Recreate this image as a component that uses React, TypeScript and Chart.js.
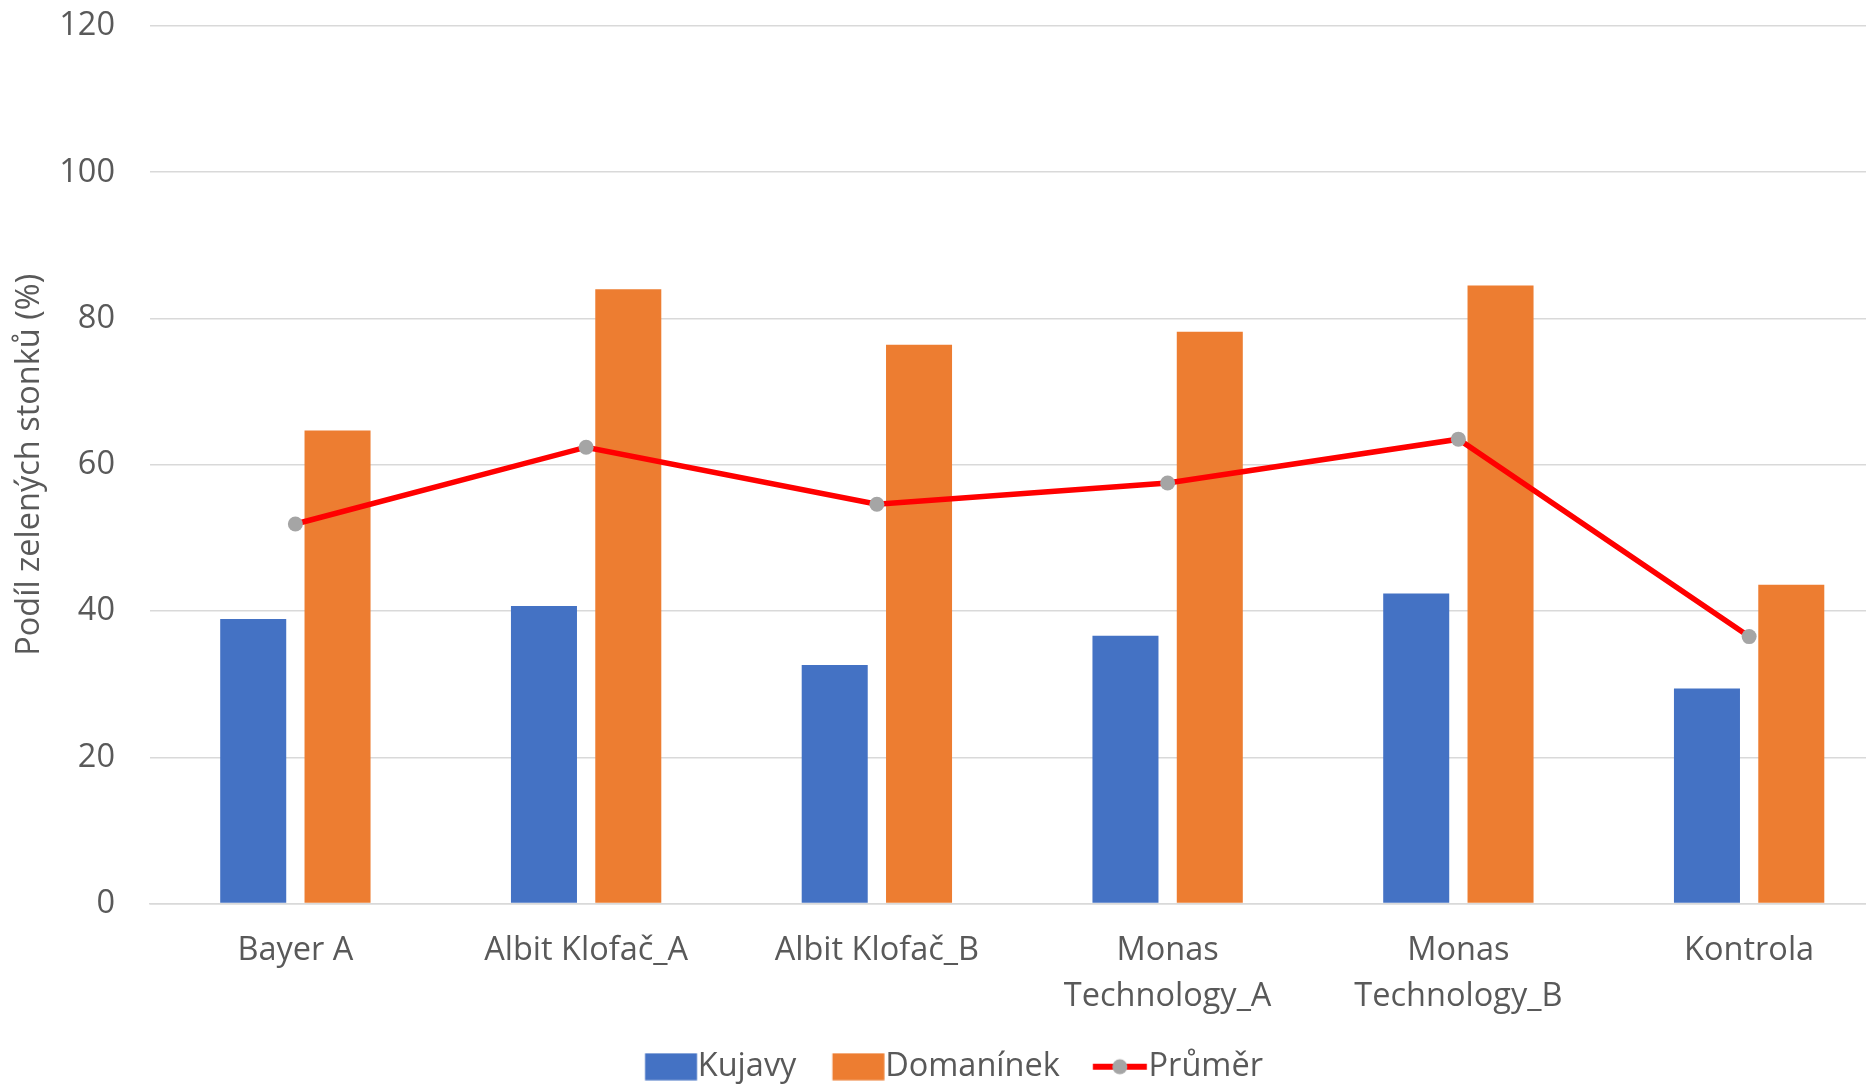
import React, { useEffect, useRef } from "react";
import { Chart, registerables } from "chart.js";

Chart.register(...registerables);

const categories: (string | string[])[] = [
  "Bayer A",
  "Albit Klofač_A",
  "Albit Klofač_B",
  ["Monas", "Technology_A"],
  ["Monas", "Technology_B"],
  "Kontrola",
];
const kujavy = [38.9, 40.7, 32.6, 36.6, 42.4, 29.4];
const domaninek = [64.7, 84.0, 76.4, 78.2, 84.5, 43.6];
const prumer = [51.9, 62.4, 54.6, 57.5, 63.5, 36.5];
const yTicks = [0, 20, 40, 60, 80, 100, 120];

const FONT = "'Open Sans', 'Liberation Sans', sans-serif";
const FS = 32.5;
const TEXT = "#595959";
const GRID = "#D9D9D9";
const BLUE = "#4472C4";
const ORANGE = "#ED7D31";
const RED = "#FF0000";
const GRAY = "#A5A5A5";

const CANVAS_W = 1902;
const LEFT_PAD = 6;
const BOXW = 36.5; // legend pointStyleWidth
const ICON_W = 70;

function makeRectIcon(color: string) {
  const c = document.createElement("canvas");
  c.width = ICON_W;
  c.height = 28;
  const ctx = c.getContext("2d")!;
  ctx.fillStyle = color;
  const x0 = ICON_W / 2 - BOXW / 2;
  ctx.fillRect(x0, 0.5, 52, 27);
  return c;
}
function makeLineIcon() {
  const c = document.createElement("canvas");
  c.width = ICON_W;
  c.height = 28;
  const ctx = c.getContext("2d")!;
  const x0 = ICON_W / 2 - BOXW / 2 - 3;
  ctx.strokeStyle = RED;
  ctx.lineWidth = 6;
  ctx.beginPath();
  ctx.moveTo(x0, 14);
  ctx.lineTo(x0 + 54, 14);
  ctx.stroke();
  ctx.fillStyle = GRAY;
  ctx.beginPath();
  ctx.arc(x0 + 27, 14, 7.5, 0, Math.PI * 2);
  ctx.fill();
  return c;
}

export default function App() {
  const ref = useRef<HTMLCanvasElement>(null);
  useEffect(() => {
    if (!ref.current) return;
    const icons = [makeRectIcon(BLUE), makeRectIcon(ORANGE), makeLineIcon()];
    const chart = new Chart(ref.current, {
      type: "bar",
      data: {
        labels: categories,
        datasets: [
          {
            type: "bar",
            label: "Kujavy",
            data: kujavy,
            backgroundColor: BLUE,
            order: 2,
            categoryPercentage: 0.58,
            barPercentage: 0.783,
          },
          {
            type: "bar",
            label: "Domanínek",
            data: domaninek,
            backgroundColor: ORANGE,
            order: 2,
            categoryPercentage: 0.58,
            barPercentage: 0.783,
          },
          {
            type: "line",
            label: "Průměr",
            data: prumer,
            borderColor: RED,
            borderWidth: 5.5,
            pointRadius: 7.5,
            pointBackgroundColor: GRAY,
            pointBorderColor: GRAY,
            pointBorderWidth: 0,
            order: 1,
          } as any,
        ],
      },
      options: {
        animation: false,
        responsive: false,
        maintainAspectRatio: false,
        layout: { padding: { top: 26, right: 0, left: LEFT_PAD, bottom: -9 } },
        plugins: {
          tooltip: { enabled: false },
          legend: {
            position: "bottom",
            labels: {
              usePointStyle: true,
              pointStyleWidth: BOXW,
              boxHeight: 27,
              padding: 36,
              color: TEXT,
              font: { family: FONT, size: FS },
              generateLabels: (chart: any) =>
                chart.data.datasets.map((ds: any, i: number) => ({
                  text: ds.label,
                  datasetIndex: i,
                  pointStyle: icons[i],
                  fillStyle: "transparent",
                  strokeStyle: "transparent",
                  lineWidth: 0,
                  fontColor: TEXT,
                  hidden: false,
                })),
            },
          },
        },
        scales: {
          x: {
            grid: { display: false, drawTicks: false },
            border: { display: true, color: GRID, width: 1.5 },
            ticks: {
              color: TEXT,
              padding: 24,
              maxRotation: 0,
              autoSkip: false,
              font: { family: FONT, size: FS, lineHeight: 46 / FS },
            },
            afterFit: (scale: any) => {
              scale.height = 111;
              scale.paddingLeft = 0;
              scale.paddingRight = 0;
            },
          },
          y: {
            min: 0,
            max: 120,
            afterBuildTicks: (scale: any) => {
              scale.ticks = yTicks.map((v) => ({ value: v }));
            },
            grid: { color: GRID, lineWidth: 1.5, drawTicks: false },
            border: { display: false },
            ticks: {
              color: TEXT,
              padding: 35,
              font: { family: FONT, size: FS },
            },
            title: {
              display: true,
              text: "Podíl zelených stonků (%)",
              color: TEXT,
              padding: { top: 30 - LEFT_PAD - (FS * 1.2) / 2, bottom: 0 },
              font: { family: FONT, size: FS },
            },
            afterFit: (scale: any) => {
              scale.width = 150 - LEFT_PAD;
              scale.paddingTop = 20;
              scale.paddingBottom = 20;
            },
          },
        },
      },
    } as any);
    return () => chart.destroy();
  }, []);
  return (
    <div
      style={{
        position: "fixed",
        left: 0,
        top: 0,
        width: 1866,
        height: 1084,
        overflow: "hidden",
        background: "#fff",
      }}
    >
      <canvas ref={ref} width={CANVAS_W} height={1084} style={{ display: "block" }} />
    </div>
  );
}
